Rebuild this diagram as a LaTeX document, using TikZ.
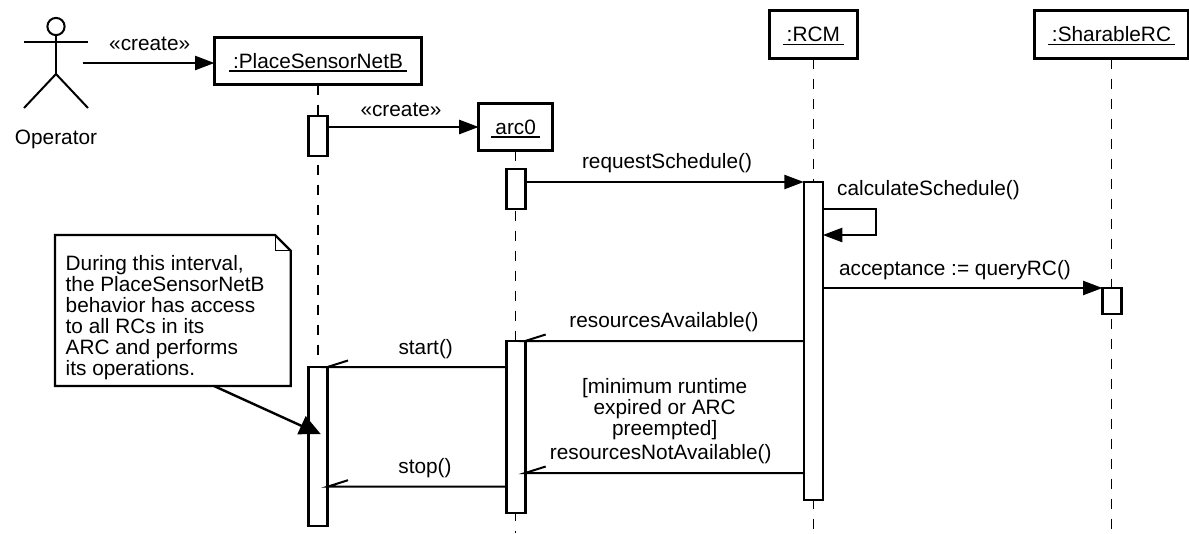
\documentclass[tikz,border=0pt]{standalone}
\usepackage{fontspec}
\setmainfont{Liberation Sans}
\usetikzlibrary{arrows.meta,calc}
\newcommand\ultext[1]{\setbox0\hbox{\kern4pt #1\kern4pt}\leavevmode\copy0\kern-\wd0\vrule width\wd0 height -2pt depth 3.4pt}
\tikzset{
  txt/.style={font=\fontsize{20.8}{21}\selectfont,inner sep=0pt,outer sep=0pt,text=black},
  objbox/.style={txt,draw=black,line width=2.6pt,fill=white,text height=16pt,text depth=1.4pt},
  bar/.style={draw=black,line width=2.6pt,fill=white,inner sep=0pt,outer sep=0pt,minimum width=19pt},
  life/.style={draw=black,line width=1.5pt,dash pattern=on 10pt off 10pt},
  msg/.style={draw=black,line width=2.4pt,-{Triangle[length=19.5pt,width=14pt]}},
  ret/.style={draw=black,line width=2pt,line join=miter},
  actor/.style={draw=black,line width=2pt},
}
\begin{document}
\begin{tikzpicture}[x=1pt,y=-1pt]
\useasboundingbox (0,0) rectangle (1189,533);
\fill[white] (0,0) rectangle (1189,533);
% objects
\node[objbox,minimum width=207pt,minimum height=47pt] (boxP) at (318,61) {\ultext{:PlaceSensorNetB}};
\node[objbox,minimum width=74pt,minimum height=47pt] (boxA) at (515.7,127) {\ultext{arc0}};
\node[objbox,minimum width=88pt,minimum height=48pt] (boxR) at (813.3,34.5) {\ultext{:RCM}};
\node[objbox,minimum width=154pt,minimum height=48pt] (boxS) at (1111.5,34.5) {\ultext{:SharableRC}};
% lifeline ends
\coordinate (endP) at (318,357);
\coordinate (endA) at (515.7,533);
\coordinate (endR) at (813.3,533);
\coordinate (endS) at (1111.5,533);
\draw[life] (boxP.south) -- (endP);
\draw[life] (boxA.south) -- (endA);
\draw[life] (boxR.south) -- (endR);
\draw[life] (boxS.south) -- (endS);
% activations
\node[bar,minimum height=40pt] (barP1) at (318,136) {};
\node[bar,minimum height=159pt] (barP2) at (318,446.5) {};
\node[bar,minimum height=40pt] (barA1) at (515.7,189) {};
\node[bar,minimum height=172pt] (barA2) at (515.7,427) {};
\node[bar,minimum height=318pt] (barR) at (813.3,341) {};
\node[bar,minimum height=26pt] (barS) at (1112,301) {};
% rows
\coordinate (rowReq) at (0,182);
\coordinate (rowLoopA) at (0,209);
\coordinate (rowLoopB) at (0,235);
\coordinate (rowAcc) at (0,288);
\coordinate (rowAvail) at (0,341);
\coordinate (rowStart) at (0,367);
\coordinate (rowNot) at (0,473);
\coordinate (rowStop) at (0,486.7);
% actor
\coordinate (actorHead) at (56,26.5);
\coordinate (actorHip) at (56,74);
\coordinate (actorFree) at (82.7,63);
\draw[actor] (actorHead) circle (8.6pt);
\draw[actor] (56,35) -- (actorHip);
\draw[actor] (24.3,42) -- (87.7,42);
\draw[actor] (24,108) -- (actorHip) -- (88,108);
\node[txt] (opLabel) at (56,139.5) {Operator};
% filled messages
\draw[msg] (actorFree) -- (actorFree -| boxP.west);
\node[txt] (lab1) at (149.7,44) {«create»};
\draw[msg] (barP1.east |- boxA.west) -- (boxA.west);
\node[txt] (lab2) at (401,110) {«create»};
\draw[msg] (barA1.east |- rowReq) -- (barR.west |- rowReq);
\node[txt] (lab3) at (667,163.5) {requestSchedule()};
\draw[msg] (barR.east |- rowAcc) -- (barS.west |- rowAcc);
\node[txt] (lab4) at (955,270) {acceptance := queryRC()};
% self call
\draw[msg,line join=miter] (barR.east |- rowLoopA) -- (876,209) -- (876,235) -- (barR.east |- rowLoopB);
\node[txt] (lab5) at (928.5,190.5) {calculateSchedule()};
% open-headed return messages
\draw[ret] (barR.west |- rowAvail) -- (barA2.east |- rowAvail) -- ++(20.5,-6.5);
\node[txt] (lab6) at (664,322.5) {resourcesAvailable()};
\draw[ret] (barA2.west |- rowStart) -- (barP2.east |- rowStart) -- ++(20.5,-6.5);
\node[txt] (lab7) at (425.7,349) {start()};
\draw[ret] (barR.west |- rowNot) -- (barA2.east |- rowNot) -- ++(20.5,-6.5);
\node[txt,align=center] (lab8) at (664.7,409) {[minimum runtime\\expired or ARC\\preempted]};
\node[txt] (lab8b) at (660.7,454) {resourcesNotAvailable()};
\draw[ret] (barA2.west |- rowStop) -- (barP2.east |- rowStop) -- ++(20.5,-6.5);
\node[txt] (lab9) at (425,468.5) {stop()};
% note
\node[minimum width=235.7pt,minimum height=151pt,inner sep=0pt,outer sep=0pt,anchor=north west] (note) at (55,235) {};
\draw[draw=black,fill=white,line width=2.4pt,line join=miter]
  (note.north west) -- ($(note.north east)+(-15.7,0)$) -- ($(note.north east)+(0,15.7)$) -- (note.south east) -- (note.south west) -- cycle;
\draw[line width=1pt] ($(note.north east)+(-15.7,0)$) -- ($(note.north east)+(-15.7,15.7)$) -- ($(note.north east)+(0,15.7)$);
\node[txt,align=left,anchor=north west] (noteText) at (65.7,255) {During this interval,\\the PlaceSensorNetB\\behavior has access\\to all RCs in its\\ARC and performs\\its operations.};
% note connector
\coordinate (noteFrom) at (214,386);
\coordinate (noteTip) at (304,427);
\draw[draw=black,line width=2.4pt] (noteFrom) -- (noteTip);
\fill[black] (305.7,416) -- (320.7,434) -- (297.3,434.3) -- cycle;
\end{tikzpicture}
\end{document}
